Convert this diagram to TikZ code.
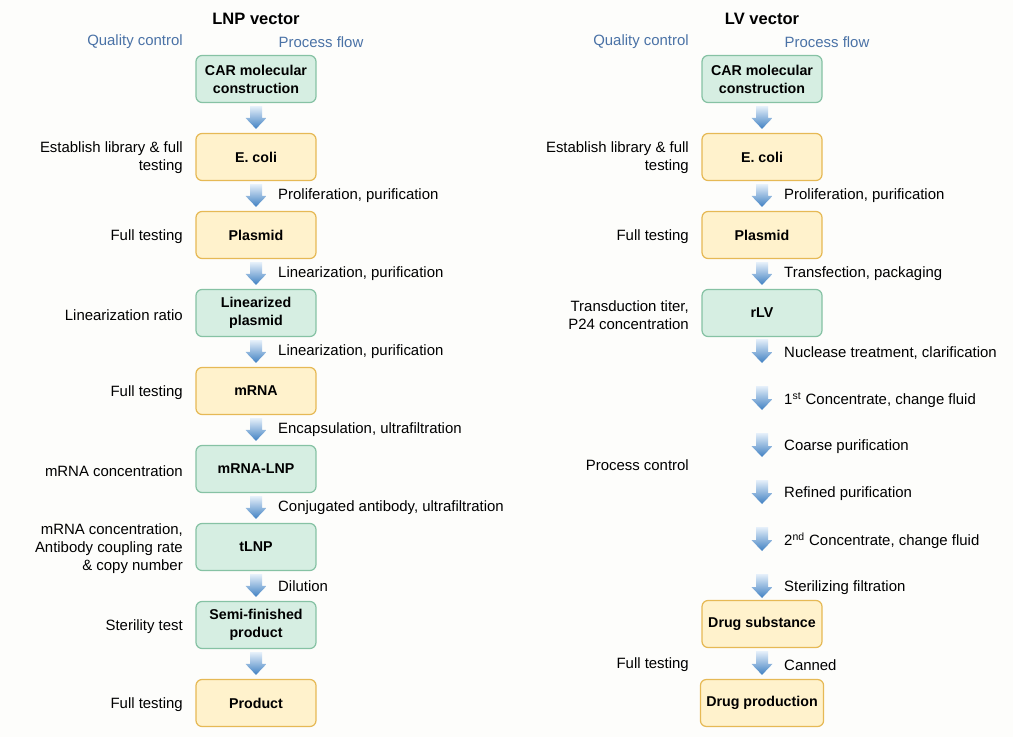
\documentclass[tikz,border=0pt]{standalone}
\usepackage{fontspec}
\setmainfont{Liberation Sans}
\usetikzlibrary{calc,positioning}
\definecolor{mint}{HTML}{D6EEE2}
\definecolor{mintline}{HTML}{86C2A4}
\definecolor{cream}{HTML}{FFF2CC}
\definecolor{creamline}{HTML}{E6B955}
\definecolor{qcblue}{HTML}{4A72A6}
\definecolor{arrtop}{HTML}{E6F0FA}
\definecolor{arrbot}{HTML}{3F80C2}
\definecolor{paper}{HTML}{FDFDFB}
\newcommand{\flowarr}[2]{\shade[top color=arrtop,bottom color=arrbot] ($(#1)+(-6,0)$) -- ($(#1)+(6,0)$) -- ($(#2)+(6,11)$) -- ($(#2)+(10.5,11)$) -- (#2) -- ($(#2)+(-10.5,11)$) -- ($(#2)+(-6,11)$) -- cycle;}
\newcommand{\boxarr}[2]{\coordinate (tA) at ($(#1.south)+(0,-3)$);\coordinate (tB) at ($(#2.north)+(0,4)$);\flowarr{tA}{tB}}

\begin{document}
\begin{tikzpicture}[x=0.02cm,y=0.02cm,
  every node/.style={font=\fontsize{8.5}{10.2}\selectfont},
  stage/.style={draw,rounded corners=0.12cm,line width=0.7pt,minimum width=2.4cm,minimum height=0.94cm,align=center,font=\fontsize{8.1}{10.2}\selectfont\bfseries},
  greenbox/.style={stage,fill=mint,draw=mintline},
  yellowbox/.style={stage,fill=cream,draw=creamline},
  qc/.style={anchor=east,align=right,yshift=-0.04cm},
  stepnote/.style={anchor=west,yshift=-0.04cm},
  head/.style={font=\fontsize{9.4}{11}\selectfont\bfseries,yshift=-0.02cm},
  col/.style={text=qcblue,yshift=-0.04cm}]
\fill[paper] (0,0) rectangle (1013,-737);
% LNP vector
\node[head] (lnp) at (256,-18) {LNP vector};
\node[col] (qcl) at (135,-40) {Quality control};\node[col] (pfl) at (321,-40) {Process flow};
\node[greenbox] (l1) at (256,-79) {CAR molecular\\construction};
\node[yellowbox] (l2) at (256,-157) {E. coli};
\node[yellowbox] (l3) at (256,-235) {Plasmid};
\node[greenbox] (l4) at (256,-313) {Linearized\\plasmid};
\node[yellowbox] (l5) at (256,-391) {mRNA};
\node[greenbox] (l6) at (256,-469) {mRNA-LNP};
\node[greenbox] (l7) at (256,-547) {tLNP};
\node[greenbox] (l8) at (256,-625) {Semi-finished\\product};
\node[yellowbox] (l9) at (256,-703) {Product};
\boxarr{l1}{l2}\boxarr{l2}{l3}\boxarr{l3}{l4}\boxarr{l4}{l5}
\boxarr{l5}{l6}\boxarr{l6}{l7}\boxarr{l7}{l8}\boxarr{l8}{l9}
\node[stepnote] at (272,-194) {Proliferation, purification};
\node[stepnote] at (272,-272) {Linearization, purification};
\node[stepnote] at (272,-350) {Linearization, purification};
\node[stepnote] at (272,-428) {Encapsulation, ultrafiltration};
\node[stepnote] at (272,-506) {Conjugated antibody, ultrafiltration};
\node[stepnote] at (272,-584) {Dilution};
\node[qc] at (189,-156) {Establish library \& full\\testing};
\node[qc] at (189,-235) {Full testing};
\node[qc] at (189,-313) {Linearization ratio};
\node[qc] at (189,-391) {Full testing};
\node[qc] at (189,-469) {mRNA concentration};
\node[qc] at (189,-547) {mRNA concentration,\\Antibody coupling rate\\\& copy number};
\node[qc] at (189,-625) {Sterility test};
\node[qc] at (189,-703) {Full testing};
% LV vector
\node[head] (lv) at (762,-18) {LV vector};
\node[col] (qcr) at (641,-40) {Quality control};\node[col] (pfr) at (827,-40) {Process flow};
\node[greenbox] (r1) at (762,-79) {CAR molecular\\construction};
\node[yellowbox] (r2) at (762,-157) {E. coli};
\node[yellowbox] (r3) at (762,-235) {Plasmid};
\node[greenbox] (r4) at (762,-313) {rLV};
\node[yellowbox] (r5) at (762,-624) {Drug substance};
\node[yellowbox] (r6) at (762,-703) {Drug production};
\boxarr{r1}{r2}\boxarr{r2}{r3}\boxarr{r3}{r4}\boxarr{r5}{r6}
\foreach \i/\y in {1/351,2/398,3/445,4/492,5/539,6/586}{
  \coordinate (s\i) at (762,-\y+12);\coordinate (e\i) at (762,-\y-12);
  \flowarr{s\i}{e\i}}
\node[stepnote] at (778,-194) {Proliferation, purification};
\node[stepnote] at (778,-272) {Transfection, packaging};
\node[stepnote] at (778,-351) {Nuclease treatment, clarification};
\node[stepnote] at (778,-398) {1\textsuperscript{st} Concentrate, change fluid};
\node[stepnote] at (778,-445) {Coarse purification};
\node[stepnote] at (778,-492) {Refined purification};
\node[stepnote] at (778,-539) {2\textsuperscript{nd} Concentrate, change fluid};
\node[stepnote] at (778,-586) {Sterilizing filtration};
\node[stepnote] at (778,-663) {Canned};
\node[qc] at (695,-156) {Establish library \& full\\testing};
\node[qc] at (695,-235) {Full testing};
\node[qc] at (695,-313) {Transduction titer,\\P24 concentration};
\node[qc] at (695,-463) {Process control};
\node[qc] at (695,-663) {Full testing};
\end{tikzpicture}
\end{document}
